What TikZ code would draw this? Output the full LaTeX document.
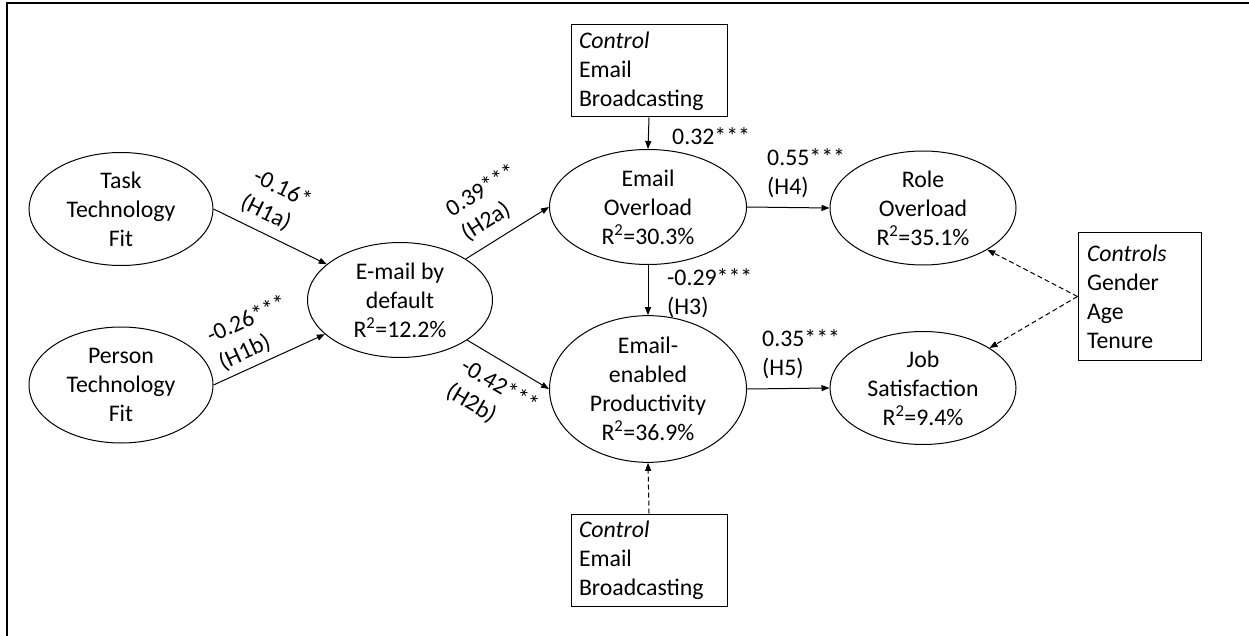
\documentclass[tikz,border=0pt]{standalone}
\usepackage{fontspec}
\setmainfont{Carlito}
\usetikzlibrary{shapes.geometric,arrows.meta}
\newcommand{\dfont}{\fontsize{23.8}{29}\selectfont}
\begin{document}
\begin{tikzpicture}[x=1pt,y=-1pt,
  lv/.style={draw, ellipse, line width=1pt, inner sep=0pt, align=center, font=\dfont},
  ctrlbox/.style={draw, line width=1pt, align=left, font=\dfont, inner xsep=8pt, inner ysep=0pt},
  lbl/.style={align=left, font=\dfont, inner sep=0pt},
  arr/.style={line width=1pt, -{Triangle[length=8pt,width=6pt]}},
  darr/.style={arr, dash pattern=on 5pt off 3pt},
]
\useasboundingbox (0,0) rectangle (1249,636);
\draw[line width=2.8pt] (7,636) -- (7,3) -- (1249,3);

\node[lv, minimum width=184pt, minimum height=113pt] (task) at (121,209) {Task\\Technology\\Fit};
\node[lv, minimum width=184pt, minimum height=116pt] (person) at (121,385) {Person\\Technology\\Fit};
\node[lv, minimum width=185pt, minimum height=115pt] (default) at (400,300) {E-mail by\\default\\R\textsuperscript{2}=12.2\%};
\node[lv, minimum width=197pt, minimum height=115pt] (overload) at (648,207) {Email\\Overload\\R\textsuperscript{2}=30.3\%};
\node[lv, minimum width=197pt, minimum height=122pt] (prod) at (648,389) {Email-\\enabled\\Productivity\\R\textsuperscript{2}=36.9\%};
\node[lv, minimum width=186pt, minimum height=114pt] (role) at (923,208) {Role\\Overload\\R\textsuperscript{2}=35.1\%};
\node[lv, minimum width=186pt, minimum height=113pt] (job) at (923,388) {Job\\Satisfaction\\R\textsuperscript{2}=9.4\%};

\node[ctrlbox, text width=140pt, minimum height=92pt] (ctop) at (649,71) {\textit{Control}\\Email\\Broadcasting};
\node[ctrlbox, text width=140pt, minimum height=92pt] (cbot) at (649,560) {\textit{Control}\\Email\\Broadcasting};
\node[ctrlbox, text width=105pt, inner xsep=9pt, minimum height=127pt] (cdem) at (1139.5,296.5) {\textit{Controls}\\Gender\\Age\\Tenure};

\draw[arr] (task.east) -- (default);
\draw[arr] (person.east) -- (default);
\draw[arr] (default) -- (overload.west);
\draw[arr] (default) -- (prod.west);
\draw[arr] (ctop.south) -- (overload.north);
\draw[arr] (overload.south) -- (prod.north);
\draw[arr] (overload.east) -- (role.west);
\draw[arr] (prod.east) -- (job.west);
\draw[darr] (cbot.north) -- (prod.south);
\draw[darr] (cdem.west) -- (role.-33);
\draw[darr] (cdem.west) -- (job.31);

\node[lbl, rotate=-26] (l1a) at (276,202) {-0.16*\\(H1a)};
\node[lbl, rotate=24.5] (l1b) at (253,333) {-0.26***\\(H1b)};
\node[lbl, rotate=32] (l2a) at (489,203) {0.39***\\(H2a)};
\node[lbl, rotate=-30.5] (l2b) at (492,399) {-0.42***\\(H2b)};
\node[lbl, anchor=west] (lc) at (672,136) {0.32***};
\node[lbl, anchor=west] (l4) at (767,173) {0.55***\\(H4)};
\node[lbl, anchor=west] (l3) at (667,293) {-0.29***\\(H3)};
\node[lbl, anchor=west] (l5) at (762,354) {0.35***\\(H5)};
\end{tikzpicture}
\end{document}
